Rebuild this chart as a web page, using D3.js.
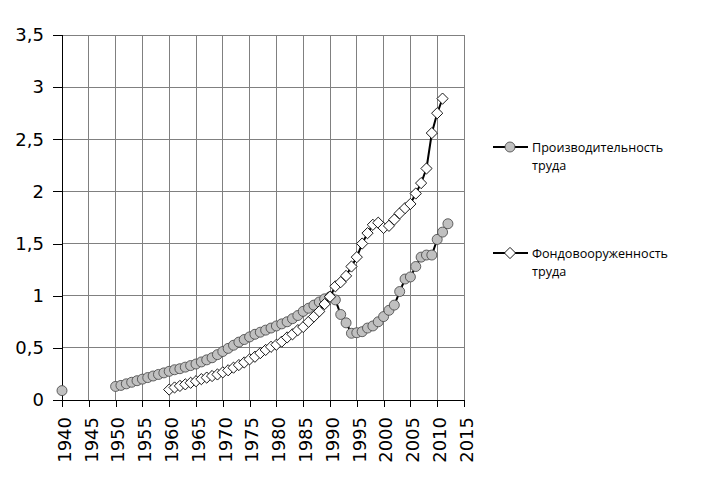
<!DOCTYPE html>
<html><head><meta charset="utf-8">
<script src="https://cdn.jsdelivr.net/npm/d3@7"></script>
<style>body{margin:0;background:#fff}</style>
</head><body>
<script>
const years = [1940,1941,1942,1943,1944,1945,1946,1947,1948,1949,
1950,1951,1952,1953,1954,1955,1956,1957,1958,1959,
1960,1961,1962,1963,1964,1965,1966,1967,1968,1969,
1970,1971,1972,1973,1974,1975,1976,1977,1978,1979,
1980,1981,1982,1983,1984,1985,1986,1987,1988,1989,
1990,1991,1992,1993,1994,1995,1996,1997,1998,1999,
2000,2001,2002,2003,2004,2005,2006,2007,2008,2009,
2010,2011,2012];
const productivity = [0.09,null,null,null,null,null,null,null,null,null,
0.13,0.14,0.155,0.17,0.185,0.20,0.215,0.23,0.245,0.26,
0.275,0.29,0.30,0.315,0.33,0.345,0.365,0.385,0.405,0.435,
0.465,0.495,0.525,0.555,0.58,0.605,0.63,0.65,0.67,0.69,
0.71,0.73,0.75,0.78,0.81,0.85,0.88,0.91,0.94,0.97,
0.99,0.96,0.82,0.74,0.64,0.645,0.655,0.69,0.71,0.75,
0.80,0.86,0.91,1.04,1.16,1.18,1.28,1.37,1.39,1.39,
1.54,1.61,1.69];
const capitalRatio = [null,null,null,null,null,null,null,null,null,null,
null,null,null,null,null,null,null,null,null,null,
0.10,0.12,0.135,0.15,0.165,0.18,0.20,0.215,0.23,0.245,
0.265,0.285,0.31,0.335,0.36,0.39,0.415,0.45,0.48,0.51,
0.53,0.56,0.60,0.63,0.67,0.70,0.75,0.80,0.85,0.92,
0.99,1.09,1.13,1.19,1.28,1.37,1.50,1.60,1.68,1.70,
1.65,1.67,1.73,1.79,1.84,1.88,1.98,2.08,2.22,2.56,
2.75,2.89,null];
const seriesNames = ["Производительность труда","Фондовооруженность труда"];
const xTicks = [1940,1945,1950,1955,1960,1965,1970,1975,1980,1985,1990,1995,2000,2005,2010,2015];
const yTicks = [0,0.5,1,1.5,2,2.5,3,3.5];

const W = 707, H = 500;
const svg = d3.select("body").append("svg").attr("width", W).attr("height", H);
const x = d3.scaleLinear().domain([1940, 2015]).range([62, 464]);
const y = d3.scaleLinear().domain([0, 3.5]).range([400, 35]);
const fmt = v => String(v).replace(".", ",");

// grid
svg.append("g").selectAll("line").data(xTicks.slice(1)).join("line")
  .attr("x1", d => x(d)).attr("x2", d => x(d)).attr("y1", y(3.5)).attr("y2", y(0))
  .attr("stroke", "#808080").attr("stroke-width", 1).attr("shape-rendering", "crispEdges");
svg.append("g").selectAll("line").data(yTicks.slice(1)).join("line")
  .attr("x1", x(1940)).attr("x2", x(2015)).attr("y1", d => y(d)).attr("y2", d => y(d))
  .attr("stroke", "#808080").attr("stroke-width", 1).attr("shape-rendering", "crispEdges");

// axes
const yAxis = d3.axisLeft(y).tickValues(yTicks).tickFormat(fmt).tickSize(9).tickPadding(9);
const gy = svg.append("g").attr("transform", `translate(${x(1940)},0)`).call(yAxis);
gy.selectAll("text").attr("font-family", "DejaVu Sans").attr("font-size", 18).attr("fill", "#000");
gy.selectAll("line,path").attr("stroke", "#000").attr("shape-rendering", "crispEdges");

const xAxis = d3.axisBottom(x).tickValues(xTicks).tickFormat(d3.format("d")).tickSize(7).tickSizeOuter(0);
const gx = svg.append("g").attr("transform", `translate(0,${y(0)})`).call(xAxis);
gx.selectAll("line,path").attr("stroke", "#000").attr("shape-rendering", "crispEdges");
gx.selectAll("text")
  .attr("font-family", "DejaVu Sans").attr("font-size", 18).attr("fill", "#000")
  .attr("transform", "rotate(-90)")
  .attr("text-anchor", "end").attr("x", -17).attr("y", 2).attr("dy", "0.35em");

// series
const rows = years.map((yr, i) => ({yr, p: productivity[i], c: capitalRatio[i]}));
const lineGen = key => d3.line().defined(d => d[key] != null).x(d => x(d.yr)).y(d => y(d[key]));

const pRows = rows.filter(d => d.p != null);
svg.append("path").datum(rows).attr("d", lineGen("p"))
  .attr("fill", "none").attr("stroke", "#000").attr("stroke-width", 2);
svg.append("g").selectAll("circle").data(pRows).join("circle")
  .attr("cx", d => x(d.yr)).attr("cy", d => y(d.p)).attr("r", 5)
  .attr("fill", "#c0c0c0").attr("stroke", "#404040").attr("stroke-width", 0.8);

const cRows = rows.filter(d => d.c != null);
svg.append("path").datum(rows).attr("d", lineGen("c"))
  .attr("fill", "none").attr("stroke", "#000").attr("stroke-width", 2);
const diamond = d3.symbol().type(d3.symbolDiamond2).size(80);
svg.append("g").selectAll("path").data(cRows).join("path")
  .attr("transform", d => `translate(${x(d.yr)},${y(d.c)})`)
  .attr("d", diamond)
  .attr("fill", "#fff").attr("stroke", "#000").attr("stroke-width", 0.9);

// legend
const legend = [
  {name: seriesNames[0], y: 147, type: "circle"},
  {name: seriesNames[1], y: 253, type: "diamond"}
];
legend.forEach(l => {
  const g = svg.append("g");
  g.append("line").attr("x1", 493).attr("x2", 528).attr("y1", l.y).attr("y2", l.y)
    .attr("stroke", "#000").attr("stroke-width", 2);
  if (l.type === "circle") {
    g.append("circle").attr("cx", 510).attr("cy", l.y).attr("r", 5)
      .attr("fill", "#c0c0c0").attr("stroke", "#404040").attr("stroke-width", 0.8);
  } else {
    g.append("path").attr("transform", `translate(510,${l.y})`).attr("d", diamond)
      .attr("fill", "#fff").attr("stroke", "#000").attr("stroke-width", 0.9);
  }
  const words = l.name.split(" ");
  const t = g.append("text").attr("font-family", "Open Sans").attr("font-size", 12.6).attr("fill", "#000");
  words.forEach((w, i) => {
    t.append("tspan").attr("x", 532).attr("y", l.y + 5 + i * 18).text(w);
  });
});
</script>
</body></html>
